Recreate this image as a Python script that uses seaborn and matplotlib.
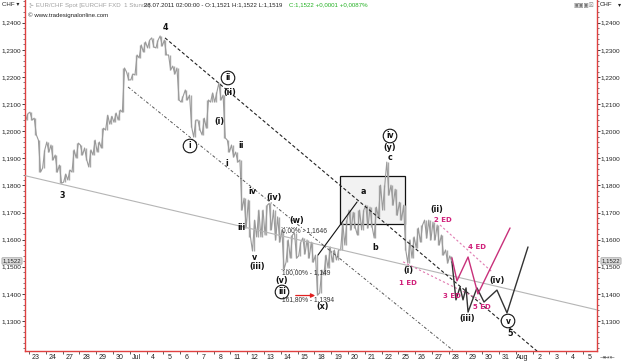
import numpy as np
import pandas as pd
import matplotlib
matplotlib.use("Agg")
import matplotlib.pyplot as plt
import seaborn as sns
from matplotlib.patches import Rectangle
from matplotlib.ticker import FixedLocator, MultipleLocator, FuncFormatter

sns.set_theme(style="white")
plt.rcParams['font.family'] = ['Liberation Sans', 'DejaVu Sans']

# ---------------- data ----------------
day_labels = ['23', '24', '27', '28', '29', '30', 'Jul', '4', '5', '6', '7', '8', '11', '12',
              '13', '14', '15', '18', '19', '20', '21', '22', '25', '26', '27', '28', '29',
              '30', '31', 'Aug', '2', '3', '4', '5']
y_ticks = [1.13, 1.14, 1.15, 1.16, 1.17, 1.18, 1.19, 1.20, 1.21, 1.22, 1.23, 1.24]

block_start = -0.25   # first 6-hour block (day index)
block_step = 0.25
block_hi = [1.2065,
            1.2070, 1.2048, 1.1967, 1.1931,
            1.1960, 1.1949, 1.1912, 1.1875,
            1.1842, 1.1857, 1.1931, 1.1956,
            1.1949, 1.1938, 1.1931, 1.1967,
            1.1960, 1.2011, 1.2059, 1.2055,
            1.2067, 1.2078, 1.2233, 1.2218,
            1.2211, 1.2281, 1.2318, 1.2329,
            1.2336, 1.2344, 1.2336, 1.2351,
            1.2336, 1.2281, 1.2240, 1.2233,
            1.2130, 1.2152, 1.2133, 1.2041,
            1.2041, 1.2048, 1.2115, 1.2141,
            1.2144, 1.2178, 1.2133, 1.1967,
            1.1949, 1.1923, 1.1894, 1.1753,
            1.1746, 1.1672, 1.1709, 1.1709,
            1.1727, 1.1734, 1.1709, 1.1684,
            1.1636, 1.1599, 1.1617, 1.1625,
            1.1591, 1.1606, 1.1599, 1.1591,
            1.1543, 1.1488, 1.1543, 1.1573,
            1.1562, 1.1562, 1.1661, 1.1672,
            1.1709, 1.1701, 1.1709, 1.1709,
            1.1727, 1.1720, 1.1720, 1.1801,
            1.1801, 1.1886, 1.1801, 1.1786,
            1.1738, 1.1727, 1.1599, 1.1610,
            1.1643, 1.1654, 1.1672, 1.1672,
            1.1665, 1.1654, 1.1617, 1.1562,
            1.1540]
block_lo = [1.2040,
            1.2041, 1.1986, 1.1849, 1.1864,
            1.1923, 1.1894, 1.1849, 1.1808,
            1.1812, 1.1820, 1.1849, 1.1901,
            1.1912, 1.1894, 1.1868, 1.1912,
            1.1923, 1.1938, 1.2004, 1.2026,
            1.2033, 1.2041, 1.2070, 1.2189,
            1.2189, 1.2207, 1.2270, 1.2292,
            1.2307, 1.2310, 1.2307, 1.2314,
            1.2281, 1.2226, 1.2211, 1.2115,
            1.2107, 1.2115, 1.2015, 1.1978,
            1.2004, 1.1986, 1.2011, 1.2107,
            1.2107, 1.2115, 1.1975, 1.1923,
            1.1905, 1.1886, 1.1709, 1.1643,
            1.1610, 1.1558, 1.1610, 1.1610,
            1.1617, 1.1636, 1.1599, 1.1591,
            1.1491, 1.1517, 1.1532, 1.1532,
            1.1540, 1.1547, 1.1532, 1.1517,
            1.1396, 1.1403, 1.1470, 1.1495,
            1.1517, 1.1525, 1.1562, 1.1580,
            1.1636, 1.1643, 1.1617, 1.1636,
            1.1643, 1.1646, 1.1606, 1.1683,
            1.1709, 1.1764, 1.1727, 1.1690,
            1.1672, 1.1562, 1.1514, 1.1532,
            1.1569, 1.1591, 1.1606, 1.1599,
            1.1599, 1.1580, 1.1543, 1.1514,
            1.1519]
last_close = 1.1522

# overlay lines (day index, price)
trend_d, trend_p = [-0.24, 33.83], [1.1836, 1.1341]
dash_d, dash_p = [8.10, 30.26], [1.2344, 1.1189]
dashdot_d, dashdot_p = [5.90, 25.37], [1.2163, 1.1186]
box_d, box_p = [18.52, 22.39], [1.1658, 1.1836]
xline_d, xline_p = [17.21, 19.54], [1.1543, 1.1739]
fib_levels = [1.1646, 1.1491, 1.1394]
fib_text = ['0,00% - 1,1646', '100,00% - 1,149', '161,80% - 1,1394']
fib_d = [15.0, 16.0]
arrow_d = [15.72, 17.21]
pink_up_d, pink_up_p = [24.48, 27.58], [1.1654, 1.1481]
pink_lo_d, pink_lo_p = [22.28, 26.86], [1.1518, 1.1378]
pink_path_d = [25.19, 25.49, 26.15, 26.74, 28.65]
pink_path_p = [1.1533, 1.1448, 1.1536, 1.1400, 1.1643]
black_path_d = [25.19, 25.43, 25.67, 25.85, 26.03, 26.15, 26.68, 27.10, 27.87, 28.47, 29.72]
black_path_p = [1.1518, 1.1378, 1.1425, 1.1378, 1.1422, 1.1333, 1.1422, 1.1370, 1.1414, 1.1330, 1.1573]

# wave labels (text, x px, y px)
wave_labels = [('4', 165, 28), ('3', 62, 195), ('(ii)', 230, 92), ('(i)', 219, 122),
               ('ii', 241, 146), ('i', 227, 164), ('iv', 252, 192), ('iii', 242, 227),
               ('(iv)', 274, 198), ('v', 255, 257), ('(iii)', 257, 267), ('(w)', 297, 220),
               ('(v)', 282, 280), ('(x)', 323, 307), ('a', 363, 191), ('b', 375, 247),
               ('c', 390, 157), ('(y)', 390, 148), ('(i)', 408, 271), ('(ii)', 437, 210),
               ('(iii)', 467, 319), ('(iv)', 497, 280), ('5', 510, 333)]
circled_labels = [('i', 190, 146), ('ii', 228, 78), ('iii', 282, 292), ('iv', 390, 136), ('v', 508, 321)]
pink_labels = [('1 ED', 408, 283), ('2 ED', 443, 220), ('4 ED', 477, 247), ('3 ED', 452, 296), ('5 ED', 482, 307)]

# ---------------- figure ----------------
W, H = 625, 364
fig = plt.figure(figsize=(W / 100, H / 100), dpi=100)
fig.patch.set_facecolor('white')
ax = fig.add_axes([25 / W, 13 / H, 572 / W, 351 / H])
ax.set_facecolor('white')

def fp(x, y):
    return x / W, 1 - y / H

# box
ax.add_patch(Rectangle((box_d[0], box_p[0]), box_d[1] - box_d[0], box_p[1] - box_p[0],
                       facecolor='#f2f2f2', edgecolor='#111111', lw=0.9, zorder=1))

# price zigzag
n = len(block_hi)
starts = block_start + block_step * np.arange(n)
mids = (np.array(block_hi) + np.array(block_lo)) / 2
xs, ys = [], []
for i in range(n):
    nxt = mids[i + 1] if i + 1 < n else last_close
    if nxt < mids[i]:
        seq = [block_hi[i], block_lo[i]]
    else:
        seq = [block_lo[i], block_hi[i]]
    xs += [starts[i] + 0.06, starts[i] + 0.19]
    ys += seq
price_df = pd.DataFrame({'d': xs, 'p': ys})
ax.vlines(starts + 0.125, block_lo, block_hi, color='#a8a8a8', lw=1.0, zorder=2)
sns.lineplot(data=price_df, x='d', y='p', ax=ax, sort=False, estimator=None,
             color='#9a9a9a', lw=0.8, zorder=2)

# overlay lines
sns.lineplot(x=trend_d, y=trend_p, ax=ax, color='#b5b5b5', lw=0.8, zorder=3)
sns.lineplot(x=dash_d, y=dash_p, ax=ax, color='#222222', lw=0.8, linestyle=(0, (3, 2)), zorder=3)
sns.lineplot(x=dashdot_d, y=dashdot_p, ax=ax, color='#555555', lw=0.7,
             linestyle=(0, (3, 2, 1, 2)), zorder=3)
sns.lineplot(x=xline_d, y=xline_p, ax=ax, color='#111111', lw=0.8, zorder=3)
for lvl in fib_levels[:2]:
    sns.lineplot(x=fib_d, y=[lvl, lvl], ax=ax, color='#777777', lw=0.7, linestyle=(0, (1, 1.5)), zorder=3)
ax.annotate('', xy=(arrow_d[1], fib_levels[2]), xytext=(arrow_d[0], fib_levels[2]),
            arrowprops=dict(arrowstyle='-|>', color='#e02020', lw=0.9, mutation_scale=6), zorder=4)
sns.lineplot(x=pink_up_d, y=pink_up_p, ax=ax, color='#e07ab0', lw=0.8, linestyle=(0, (2, 2)), zorder=3)
sns.lineplot(x=pink_lo_d, y=pink_lo_p, ax=ax, color='#e07ab0', lw=0.8, linestyle=(0, (2, 2)), zorder=3)
sns.lineplot(x=black_path_d, y=black_path_p, ax=ax, sort=False, estimator=None,
             color='#333333', lw=1.0, zorder=4)
sns.lineplot(x=pink_path_d, y=pink_path_p, ax=ax, sort=False, estimator=None,
             color='#c8307a', lw=1.0, zorder=4)

# axes limits / ticks
ax.set_xlim(-0.238, 33.83)
ax.set_ylim(1.11894, 1.24837)
ax.set_xlabel('')
ax.set_ylabel('')
ax.xaxis.set_major_locator(FixedLocator([i + 0.4 for i in range(len(day_labels))]))
ax.set_xticklabels(day_labels)
ax.xaxis.set_minor_locator(FixedLocator(list(range(len(day_labels)))))
ax.yaxis.set_major_locator(FixedLocator(y_ticks))
ax.yaxis.set_minor_locator(MultipleLocator(0.002))
ax.yaxis.set_major_formatter(FuncFormatter(lambda v, p: f'{v:.4f}'.replace('.', ',')))
ax.tick_params(axis='x', which='major', length=0, pad=2, labelsize=5.0, colors='#222222')
ax.tick_params(axis='x', which='minor', length=2, width=0.6, color='#444444', bottom=True)
ax.tick_params(axis='y', which='major', length=2, width=0.6, pad=0.5, labelsize=4.6,
               left=True, right=True, labelleft=True, labelright=True, colors='#222222')
ax.tick_params(axis='y', which='minor', length=1.2, width=0.5, left=True, right=True, color='#444444')
for s in ['left', 'right', 'bottom']:
    ax.spines[s].set_color('#e04040')
    ax.spines[s].set_linewidth(1.0)
ax.spines['top'].set_visible(False)
ax.grid(False)

# labels
for t, x, y in wave_labels:
    fig.text(*fp(x, y), t, ha='center', va='center', fontsize=5.8, fontweight='bold',
             color='#111111', family=['DejaVu Sans'])
for t, x, y in circled_labels:
    fig.text(*fp(x, y), t, ha='center', va='center', fontsize=5.5, fontweight='bold',
             color='#111111', family=['DejaVu Sans'],
             bbox=dict(boxstyle='circle,pad=0.3', fc='white', ec='#111111', lw=0.8))
for t, x, y in pink_labels:
    fig.text(*fp(x, y), t, ha='center', va='center', fontsize=5.0, fontweight='bold',
             color='#d0207a', family=['DejaVu Sans'])
for t, lvl, y in zip(fib_text, fib_levels, [231, 273, 300]):
    fig.text(*fp(282, y), t, ha='left', va='center', fontsize=4.8, color='#333333')

# header
hs = 4.4
fig.text(*fp(2, 5), 'CHF \u25be', ha='left', va='center', fontsize=hs, color='#222222')
fig.text(*fp(600, 5), 'CHF', ha='left', va='center', fontsize=hs, color='#222222')
fig.text(*fp(618, 5), '\u25be', ha='left', va='center', fontsize=hs, color='#222222')
fig.text(*fp(29, 5), '\u22b1 EUR/CHF Spot [EURCHF FXD  1 Stunde]', ha='left', va='center',
         fontsize=hs, color='#a0a0a0')
fig.text(*fp(144, 5), '28.07.2011 02:00:00 - O:1,1521 H:1,1522 L:1,1519', ha='left', va='center',
         fontsize=hs, color='#222222')
fig.text(*fp(289, 5), 'C:1,1522 +0,0001 +0,0087%', ha='left', va='center',
         fontsize=hs, color='#22b022')
fig.text(*fp(28, 15), '\u00a9 www.tradesignalonline.com', ha='left', va='center',
         fontsize=hs, color='#222222')
fig.text(*fp(573, 5), '\u25a3\u25a3\u25a3\u2612', ha='left', va='center', fontsize=4.0,
         color='#777777', family=['DejaVu Sans'])
fig.text(*fp(600, 357), '\u21e5\u2194\u21e4', ha='left', va='center', fontsize=4.5,
         color='#555555', family=['DejaVu Sans'])
for x in (611, 12):
    fig.text(*fp(x, 261), '1,1522', ha='center', va='center', fontsize=4.4, color='#222222',
             bbox=dict(boxstyle='round,pad=0.12', fc='#dcdcdc', ec='#999999', lw=0.5))

fig.savefig('out.png', dpi=100)
